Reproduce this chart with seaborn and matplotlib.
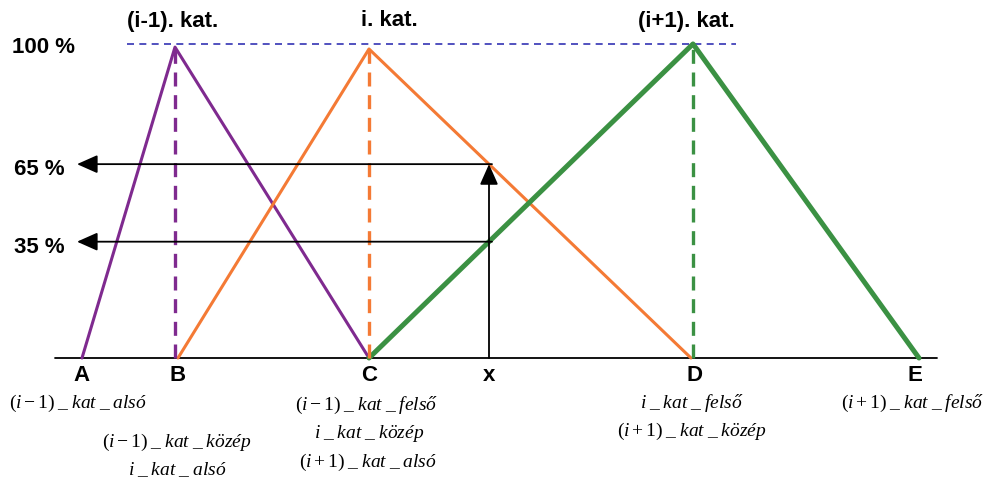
import numpy as np
import pandas as pd
import matplotlib
matplotlib.use("Agg")
import matplotlib.pyplot as plt
import seaborn as sns

# categories (triangular membership functions)
categories = ["(i-1). kat.", "i. kat.", "(i+1). kat."]
lower = [82, 178, 369]      # A, B, C
middle = [175, 369, 693]    # peaks
upper = [369, 691, 919]     # C, D, E
peak = [98.7, 98.1, 99.7]
colors = ["#7f2a8f", "#f47a35", "#3b9143"]
widths = [2.2, 2.2, 3.6]
title_x = [173, 389, 686]

# points on the x axis
point_names = ["A", "B", "C", "x", "D", "E"]
point_pos = [82, 178, 369, 489, 694, 915]
x_value = 489
levels = ["65 %", "35 %"]

# labels below the axis
sub_labels = [
    (78, 403, r"$(i-1)\;\_\;kat\;\_\;alsó$"),
    (177, 442, r"$(i-1)\;\_\;kat\;\_\;közép$"),
    (177, 470, r"$i\;\_\;kat\;\_\;alsó$"),
    (367, 405, r"$(i-1)\;\_\;kat\;\_\;felső$"),
    (369, 434, r"$i\;\_\;kat\;\_\;közép$"),
    (368, 462, r"$(i+1)\;\_\;kat\;\_\;alsó$"),
    (692, 403, r"$i\;\_\;kat\;\_\;felső$"),
    (692, 431, r"$(i+1)\;\_\;kat\;\_\;közép$"),
    (913, 403, r"$(i+1)\;\_\;kat\;\_\;felső$"),
]

sns.set_style("white")
plt.rcParams["font.family"] = ["Liberation Sans", "DejaVu Sans"]
plt.rcParams["text.color"] = "black"
plt.rcParams["mathtext.fontset"] = "custom"
plt.rcParams["mathtext.rm"] = "Liberation Serif"
plt.rcParams["mathtext.it"] = "Liberation Serif:italic"


def ypx(py):
    # pixel row -> percent
    return (359 - py) / 3.15


fig = plt.figure(figsize=(9.95, 4.81), dpi=100)
ax = fig.add_axes([0, 0, 1, 1])
ax.set_xlim(0, 995)
ax.set_ylim(ypx(481), ypx(0))
ax.axis("off")

# baseline and 100 % reference line
ax.plot([55, 937], [0, 0], color="black", lw=1.3)
ax.plot([127, 736], [99.7, 99.7], color="#3434b4", lw=1.2, dashes=(4.2, 3.2))

rows = []
for name, lo, mid, up, pk in zip(categories, lower, middle, upper, peak):
    rows += [(name, lo, 0), (name, mid, pk), (name, up, 0)]
df = pd.DataFrame(rows, columns=["cat", "x", "mu"])

for name, col, lw in zip(categories, colors, widths):
    sub = df[df["cat"] == name]
    sns.lineplot(data=sub, x="x", y="mu", color=col, lw=lw, sort=False,
                 estimator=None, ax=ax)

for mid, pk, col in zip(middle, peak, colors):
    ax.plot([mid, mid], [0, pk], color=col, lw=2.4, dashes=(4.2, 2.6))

for name, tx in zip(categories, title_x):
    ax.text(tx, ypx(21), name, ha="center", va="center", fontsize=16,
            fontweight="bold")

# membership of x in the i. and (i+1). categories
mu_vals = [np.interp(x_value, [lower[k], middle[k], upper[k]], [0, peak[k], 0])
           for k in (1, 2)]

arrow = dict(arrowstyle="-|>,head_length=0.9,head_width=0.4", color="black",
             lw=1.3, shrinkA=0, shrinkB=0, mutation_scale=14)
ax.annotate("", xy=(x_value, mu_vals[0]), xytext=(x_value, 0), arrowprops=arrow)
for lab, mu in zip(levels, mu_vals):
    ax.annotate("", xy=(77, mu), xytext=(x_value + 3, mu), arrowprops=arrow)
    ax.text(39, mu - 1.5, lab, ha="center", va="center", fontsize=16,
            fontweight="bold")
ax.text(43, 99, "100 %", ha="center", va="center", fontsize=16,
        fontweight="bold")

for name, px in zip(point_names, point_pos):
    ax.text(px, ypx(376), name, ha="center", va="center", fontsize=16,
            fontweight="bold")

for px, py, s in sub_labels:
    ax.text(px, ypx(py), s, ha="center", va="center", fontsize=14)

fig.savefig("out.png", dpi=100)
